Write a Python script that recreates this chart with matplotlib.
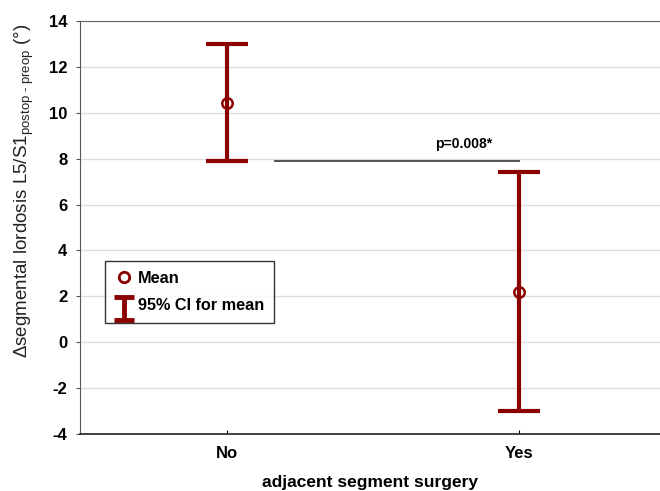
import matplotlib
matplotlib.use("Agg")
import matplotlib.pyplot as plt
from matplotlib.lines import Line2D
from matplotlib.path import Path

plt.rcParams['font.family'] = ['Liberation Sans', 'DejaVu Sans']
plt.rcParams['axes.unicode_minus'] = False
plt.rcParams['mathtext.fontset'] = 'custom'
plt.rcParams['mathtext.rm'] = 'Liberation Sans'
plt.rcParams['mathtext.it'] = 'Liberation Sans'

# group means and 95% CI bounds
groups = ['No', 'Yes']
means = [10.43, 2.19]
ci_low = [7.9, -3.0]
ci_high = [13.0, 7.42]
p_text = 'p=0.008*'
p_level = 7.9

red = '#8b0000'

fig = plt.figure(figsize=(6.6, 4.91), dpi=100)
ax = fig.add_axes([0.1212, 0.1161, 0.8788, 0.841])

xs = list(range(len(groups)))
err = [[m - lo for m, lo in zip(means, ci_low)],
       [hi - m for m, hi in zip(means, ci_high)]]
ax.errorbar(xs, means, yerr=err, fmt='none', ecolor=red, elinewidth=3,
            capsize=15, capthick=3, zorder=3)
ax.plot(xs, means, 'o', mfc='none', mec=red, mew=1.8, ms=7.5, zorder=4)

# significance bracket between groups
ax.plot([0.165, 1.0], [p_level, p_level], color='#444444', lw=1.3, zorder=2)
ax.text(0.81, p_level + 0.45, p_text, ha='center', va='bottom',
        fontsize=10, fontweight='bold')

ax.set_ylim(-4, 14)
ax.set_yticks(range(-4, 15, 2))
ax.set_xlim(-0.503, 1.483)
ax.set_xticks(xs)
ax.set_xticklabels(groups)
ax.yaxis.grid(True, color='#dddddd', lw=1)
ax.set_axisbelow(True)

for lab in ax.get_xticklabels() + ax.get_yticklabels():
    lab.set_fontweight('bold')
    lab.set_fontsize(12)
ax.tick_params(axis='y', length=3, color='#555555', pad=6)
ax.tick_params(axis='x', length=3, direction='in', pad=9)

ax.spines['right'].set_visible(False)
ax.spines['top'].set_color('#666666')
ax.spines['left'].set_color('#555555')
ax.spines['bottom'].set_color('#222222')
ax.spines['bottom'].set_linewidth(1.2)

ax.set_xlabel('adjacent segment surgery', fontsize=12.5, fontweight='bold',
              labelpad=10)
ax.set_ylabel(r'$\Delta$segmental lordosis L5/S1$_{\text{postop - preop}}$ (°)',
              fontsize=13.5, color='#222222')
ax.yaxis.set_label_coords(-0.076, 0.59)

# I-beam glyph for the CI entry, sitting a bit below the text line
ibeam = Path([(-0.85, 0.7), (0.85, 0.7), (0, 0.7), (0, -1.3),
              (-0.85, -1.3), (0.85, -1.3)],
             [Path.MOVETO, Path.LINETO, Path.MOVETO, Path.LINETO,
              Path.MOVETO, Path.LINETO])
handles = [
    Line2D([], [], ls='none', marker='o', mfc='none', mec=red, mew=2, ms=7.5),
    Line2D([], [], ls='none', marker=ibeam, mec=red, mew=3.5, ms=22),
]
leg = ax.legend(handles, ['Mean', '95% CI for mean'], loc='upper left',
                bbox_to_anchor=(0.043, 0.418), frameon=True, fancybox=False,
                edgecolor='black', prop={'weight': 'bold', 'size': 11.7},
                handlelength=1.2, handletextpad=0.25, labelspacing=0.75,
                borderpad=0.6, borderaxespad=0)
leg.get_frame().set_linewidth(1.0)

fig.savefig('out.png', dpi=100)
